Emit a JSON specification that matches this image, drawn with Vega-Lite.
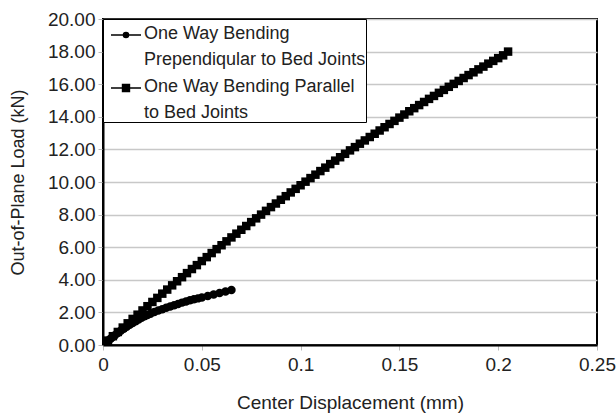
{
  "$schema": "https://vega.github.io/schema/vega-lite/v6.json",
  "autosize": "none",
  "width": 494,
  "height": 326,
  "padding": {"left": 103, "top": 19, "right": 19, "bottom": 70},
  "background": "white",
  "config": {
    "font": "Liberation Sans",
    "view": {"stroke": "black", "strokeWidth": 2},
    "axis": {
      "labelFont": "Liberation Sans",
      "titleFont": "Liberation Sans",
      "labelFontSize": 19,
      "titleFontSize": 18,
      "titleFontWeight": "normal",
      "labelColor": "#222",
      "titleColor": "#222",
      "labelFlush": false,
      "domainColor": "black",
      "domainWidth": 2,
      "tickColor": "#bbb",
      "tickSize": 5,
      "gridColor": "#c8c8c8",
      "gridWidth": 1.5
    }
  },
  "data": {
    "values": [
      {"series": "perp", "x": 0, "y": 0},
      {"series": "perp", "x": 0.001, "y": 0.1},
      {"series": "perp", "x": 0.002, "y": 0.2},
      {"series": "perp", "x": 0.003, "y": 0.3},
      {"series": "perp", "x": 0.004, "y": 0.4},
      {"series": "perp", "x": 0.005, "y": 0.5},
      {"series": "perp", "x": 0.006, "y": 0.6},
      {"series": "perp", "x": 0.0075, "y": 0.74},
      {"series": "perp", "x": 0.009, "y": 0.88},
      {"series": "perp", "x": 0.0105, "y": 1.0},
      {"series": "perp", "x": 0.012, "y": 1.12},
      {"series": "perp", "x": 0.0135, "y": 1.24},
      {"series": "perp", "x": 0.015, "y": 1.35},
      {"series": "perp", "x": 0.0165, "y": 1.45},
      {"series": "perp", "x": 0.018, "y": 1.56},
      {"series": "perp", "x": 0.0195, "y": 1.67},
      {"series": "perp", "x": 0.021, "y": 1.76},
      {"series": "perp", "x": 0.0225, "y": 1.84},
      {"series": "perp", "x": 0.024, "y": 1.92},
      {"series": "perp", "x": 0.026, "y": 2.02},
      {"series": "perp", "x": 0.028, "y": 2.11},
      {"series": "perp", "x": 0.03, "y": 2.2},
      {"series": "perp", "x": 0.032, "y": 2.28},
      {"series": "perp", "x": 0.034, "y": 2.36},
      {"series": "perp", "x": 0.036, "y": 2.44},
      {"series": "perp", "x": 0.038, "y": 2.52},
      {"series": "perp", "x": 0.04, "y": 2.6},
      {"series": "perp", "x": 0.042, "y": 2.67},
      {"series": "perp", "x": 0.044, "y": 2.74},
      {"series": "perp", "x": 0.046, "y": 2.8},
      {"series": "perp", "x": 0.048, "y": 2.86},
      {"series": "perp", "x": 0.05, "y": 2.92},
      {"series": "perp", "x": 0.053, "y": 3.01},
      {"series": "perp", "x": 0.056, "y": 3.1},
      {"series": "perp", "x": 0.059, "y": 3.19},
      {"series": "perp", "x": 0.062, "y": 3.28},
      {"series": "perp", "x": 0.065, "y": 3.38},
      {"series": "para", "x": 0, "y": 0},
      {"series": "para", "x": 0.0025, "y": 0.27},
      {"series": "para", "x": 0.005, "y": 0.54},
      {"series": "para", "x": 0.0075, "y": 0.8},
      {"series": "para", "x": 0.01, "y": 1.07},
      {"series": "para", "x": 0.0125, "y": 1.33},
      {"series": "para", "x": 0.015, "y": 1.6},
      {"series": "para", "x": 0.0175, "y": 1.86},
      {"series": "para", "x": 0.02, "y": 2.12},
      {"series": "para", "x": 0.0225, "y": 2.38},
      {"series": "para", "x": 0.025, "y": 2.64},
      {"series": "para", "x": 0.0275, "y": 2.89},
      {"series": "para", "x": 0.03, "y": 3.15},
      {"series": "para", "x": 0.0325, "y": 3.4},
      {"series": "para", "x": 0.035, "y": 3.66},
      {"series": "para", "x": 0.0375, "y": 3.91},
      {"series": "para", "x": 0.04, "y": 4.16},
      {"series": "para", "x": 0.0425, "y": 4.41},
      {"series": "para", "x": 0.045, "y": 4.66},
      {"series": "para", "x": 0.0475, "y": 4.9},
      {"series": "para", "x": 0.05, "y": 5.15},
      {"series": "para", "x": 0.0525, "y": 5.39},
      {"series": "para", "x": 0.055, "y": 5.64},
      {"series": "para", "x": 0.0575, "y": 5.88},
      {"series": "para", "x": 0.06, "y": 6.12},
      {"series": "para", "x": 0.0625, "y": 6.36},
      {"series": "para", "x": 0.065, "y": 6.6},
      {"series": "para", "x": 0.0675, "y": 6.83},
      {"series": "para", "x": 0.07, "y": 7.07},
      {"series": "para", "x": 0.0725, "y": 7.3},
      {"series": "para", "x": 0.075, "y": 7.54},
      {"series": "para", "x": 0.0775, "y": 7.77},
      {"series": "para", "x": 0.08, "y": 8.0},
      {"series": "para", "x": 0.0825, "y": 8.23},
      {"series": "para", "x": 0.085, "y": 8.46},
      {"series": "para", "x": 0.0875, "y": 8.68},
      {"series": "para", "x": 0.09, "y": 8.91},
      {"series": "para", "x": 0.0925, "y": 9.13},
      {"series": "para", "x": 0.095, "y": 9.36},
      {"series": "para", "x": 0.0975, "y": 9.58},
      {"series": "para", "x": 0.1, "y": 9.8},
      {"series": "para", "x": 0.1025, "y": 10.02},
      {"series": "para", "x": 0.105, "y": 10.24},
      {"series": "para", "x": 0.1075, "y": 10.45},
      {"series": "para", "x": 0.11, "y": 10.67},
      {"series": "para", "x": 0.1125, "y": 10.88},
      {"series": "para", "x": 0.115, "y": 11.1},
      {"series": "para", "x": 0.1175, "y": 11.31},
      {"series": "para", "x": 0.12, "y": 11.52},
      {"series": "para", "x": 0.1225, "y": 11.73},
      {"series": "para", "x": 0.125, "y": 11.94},
      {"series": "para", "x": 0.1275, "y": 12.14},
      {"series": "para", "x": 0.13, "y": 12.35},
      {"series": "para", "x": 0.1325, "y": 12.55},
      {"series": "para", "x": 0.135, "y": 12.76},
      {"series": "para", "x": 0.1375, "y": 12.96},
      {"series": "para", "x": 0.14, "y": 13.16},
      {"series": "para", "x": 0.1425, "y": 13.36},
      {"series": "para", "x": 0.145, "y": 13.56},
      {"series": "para", "x": 0.1475, "y": 13.75},
      {"series": "para", "x": 0.15, "y": 13.95},
      {"series": "para", "x": 0.1525, "y": 14.14},
      {"series": "para", "x": 0.155, "y": 14.34},
      {"series": "para", "x": 0.1575, "y": 14.53},
      {"series": "para", "x": 0.16, "y": 14.72},
      {"series": "para", "x": 0.1625, "y": 14.91},
      {"series": "para", "x": 0.165, "y": 15.1},
      {"series": "para", "x": 0.1675, "y": 15.28},
      {"series": "para", "x": 0.17, "y": 15.47},
      {"series": "para", "x": 0.1725, "y": 15.65},
      {"series": "para", "x": 0.175, "y": 15.84},
      {"series": "para", "x": 0.1775, "y": 16.02},
      {"series": "para", "x": 0.18, "y": 16.2},
      {"series": "para", "x": 0.1825, "y": 16.38},
      {"series": "para", "x": 0.185, "y": 16.56},
      {"series": "para", "x": 0.1875, "y": 16.73},
      {"series": "para", "x": 0.19, "y": 16.91},
      {"series": "para", "x": 0.1925, "y": 17.08},
      {"series": "para", "x": 0.195, "y": 17.26},
      {"series": "para", "x": 0.1975, "y": 17.43},
      {"series": "para", "x": 0.2, "y": 17.6},
      {"series": "para", "x": 0.2025, "y": 17.77},
      {"series": "para", "x": 0.205, "y": 18.0}
    ]
  },
  "encoding": {
    "x": {
      "field": "x",
      "type": "quantitative",
      "scale": {"domain": [0, 0.25], "nice": false},
      "axis": {
        "title": "Center Displacement (mm)",
        "titleFontSize": 19,
        "values": [0, 0.05, 0.1, 0.15, 0.2, 0.25],
        "format": "~g",
        "grid": false,
        "labelPadding": 5,
        "titlePadding": 19
      }
    },
    "y": {
      "field": "y",
      "type": "quantitative",
      "scale": {"domain": [0, 20], "nice": false},
      "axis": {
        "title": "Out-of-Plane Load (kN)",
        "values": [0, 2, 4, 6, 8, 10, 12, 14, 16, 18, 20],
        "format": ".2f",
        "grid": true,
        "labelPadding": 3,
        "titlePadding": 20
      }
    }
  },
  "resolve": {"scale": {"shape": "independent"}, "legend": {"shape": "independent"}},
  "layer": [
    {
      "mark": {"type": "line", "color": "black", "strokeWidth": 3, "clip": true},
      "encoding": {"detail": {"field": "series", "type": "nominal"}}
    },
    {
      "mark": {"type": "point", "filled": true, "color": "black", "opacity": 1, "clip": true},
      "encoding": {
        "shape": {
          "field": "series",
          "type": "nominal",
          "scale": {"domain": ["perp", "para"], "range": ["circle", "square"]},
          "legend": null
        },
        "size": {"value": 72}
      }
    },
    {
      "transform": [{"filter": "datum.x < 0"}],
      "mark": {"type": "point", "filled": true, "color": "black", "opacity": 1},
      "encoding": {
        "shape": {
          "field": "series",
          "type": "nominal",
          "scale": {
            "domain": ["perp", "para"],
            "range": [
              "M-1,0H1M-0.17,0A0.17,0.17 0 1,0 0.17,0A0.17,0.17 0 1,0 -0.17,0Z",
              "M-1,0H1M-0.23,-0.23H0.23V0.23H-0.23Z"
            ]
          },
          "legend": {
            "title": null,
            "orient": "top-left",
            "offset": 0,
            "padding": 0,
            "symbolOffset": 7,
            "strokeColor": "black",
            "fillColor": "white",
            "labelFont": "Liberation Sans",
            "labelFontSize": 18,
            "labelColor": "#222",
            "labelLimit": 0,
            "labelOffset": 2,
            "rowPadding": 3,
            "symbolSize": 900,
            "labelExpr": "datum.value == 'perp' ? ['One Way Bending', 'Prependiqular to Bed Joints'] : ['One Way Bending Parallel', 'to Bed Joints']",
            "encoding": {
              "symbols": {
                "fill": {"value": "black"},
                "stroke": {"value": "black"},
                "strokeWidth": {"value": 1.5},
                "opacity": {"value": 1}
              },
              "labels": {
                "lineHeight": {"value": 26},
                "baseline": {"value": "top"},
                "dy": {"value": -10}
              }
            }
          }
        }
      }
    }
  ]
}
